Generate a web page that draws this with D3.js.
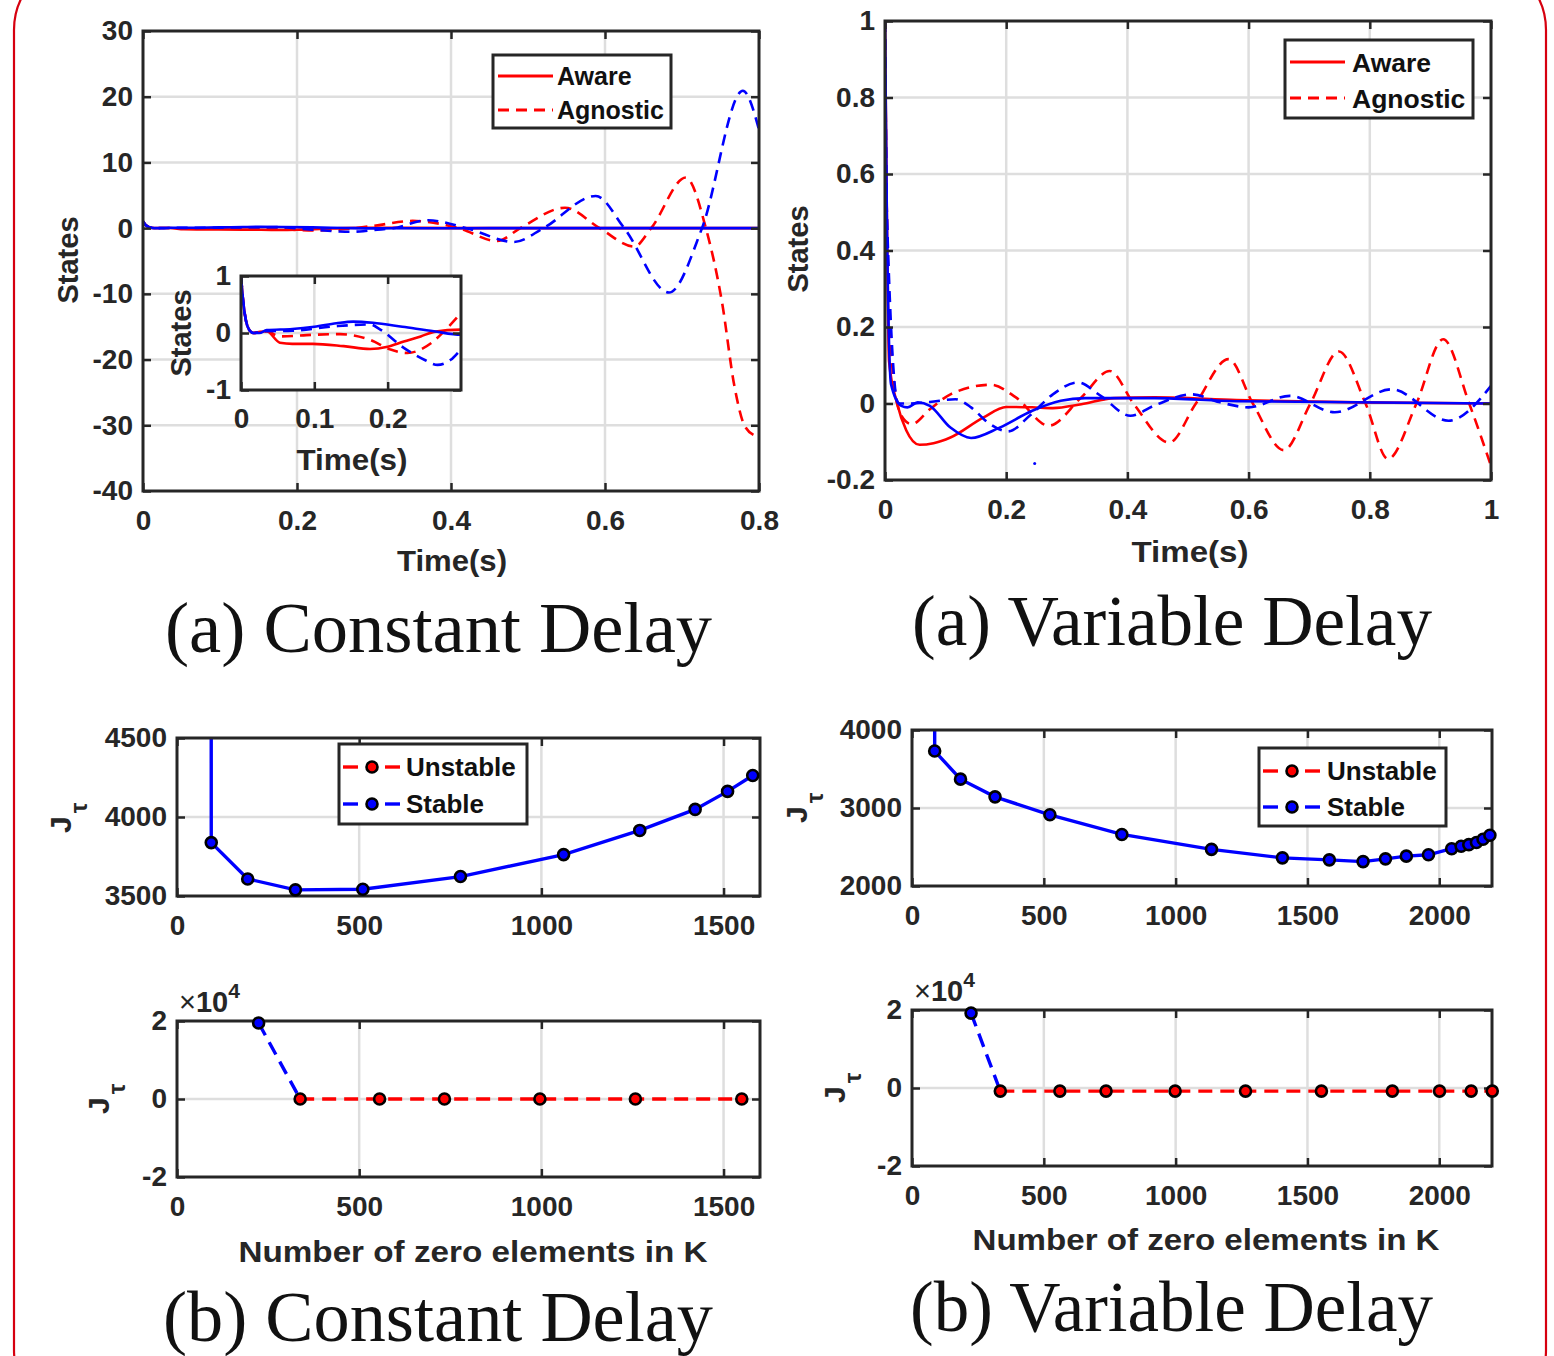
<!DOCTYPE html>
<html>
<head>
<meta charset="utf-8">
<script src="https://cdn.jsdelivr.net/npm/d3@7"></script>
<style>
  body { margin: 0; background: #fff; }
</style>
</head>
<body>
<svg id="fig" width="1554" height="1356" font-family='"Liberation Sans", Arial, sans-serif'></svg>
<script>
// ---------- data ----------
// (a) constant delay, [time (s), state]
const constAwareRed = [[0,1],[0.003,0.55],[0.007,0.2],[0.012,0.04],[0.017,0],[0.026,0.02],[0.035,0.03],[0.053,-0.17],[0.07,-0.19],[0.098,-0.19],[0.14,-0.23],[0.176,-0.28],[0.2,-0.24],[0.222,-0.15],[0.245,-0.06],[0.263,0.02],[0.3,0.06],[0.35,0.04],[0.45,0],[0.8,0]];
const constAwareBlue = [[0,1],[0.003,0.55],[0.007,0.2],[0.012,0.04],[0.017,0],[0.025,0],[0.035,0.05],[0.07,0.07],[0.1,0.11],[0.13,0.17],[0.153,0.2],[0.18,0.18],[0.22,0.11],[0.263,0.03],[0.3,-0.03],[0.35,-0.02],[0.45,0],[0.8,0]];
const constAgnosticRed = [[0,1],[0.003,0.55],[0.007,0.2],[0.012,0.04],[0.017,0],[0.026,0.02],[0.035,0.03],[0.053,-0.06],[0.1,-0.03],[0.135,-0.02],[0.176,-0.12],[0.204,-0.29],[0.227,-0.35],[0.259,-0.18],[0.277,0.03],[0.3,0.35],[0.35,1.1],[0.41,0],[0.46,-1.96],[0.49,0],[0.548,3.1],[0.593,0],[0.638,-2.8],[0.66,0],[0.705,7.7],[0.731,0],[0.752,-11.3],[0.768,-24],[0.781,-30],[0.795,-31.6],[0.8,-31.8]];
const constAgnosticBlue = [[0,1],[0.003,0.55],[0.007,0.2],[0.012,0.04],[0.017,0],[0.03,0.03],[0.07,0.04],[0.13,0.12],[0.176,0.15],[0.19,0.06],[0.222,-0.26],[0.25,-0.47],[0.268,-0.56],[0.286,-0.47],[0.3,-0.29],[0.325,0],[0.37,1.2],[0.42,0],[0.482,-2.1],[0.52,0],[0.588,4.9],[0.625,0],[0.683,-9.8],[0.726,0],[0.779,20.9],[0.8,15]];

// (a) variable delay, [time (s), state]
const varAwareRed = [[0,1],[0.003,0.5],[0.0067,0.11],[0.02,0],[0.035,-0.07],[0.057,-0.108],[0.08,-0.104],[0.108,-0.089],[0.162,-0.037],[0.2,-0.009],[0.243,-0.01],[0.277,-0.012],[0.324,-0.002],[0.378,0.014],[0.445,0.016],[0.58,0.009],[0.78,0.003],[1,0]];
const varAwareBlue = [[0,1],[0.003,0.5],[0.01,0.05],[0.027,-0.006],[0.037,-0.01],[0.054,0.003],[0.074,-0.006],[0.108,-0.063],[0.142,-0.09],[0.189,-0.063],[0.243,-0.019],[0.29,0.007],[0.33,0.014],[0.445,0.014],[0.58,0.006],[1,0]];
const varAgnosticRed = [[0,1],[0.003,0.5],[0.013,0.08],[0.027,-0.032],[0.044,-0.054],[0.074,-0.015],[0.108,0.024],[0.175,0.049],[0.216,0.016],[0.27,-0.058],[0.324,0.016],[0.371,0.085],[0.41,0],[0.469,-0.102],[0.513,0],[0.567,0.116],[0.607,0],[0.658,-0.122],[0.702,0],[0.749,0.136],[0.793,0],[0.83,-0.145],[0.877,0],[0.921,0.168],[0.964,0],[1,-0.163]];
const varAgnosticBlue = [[0,1],[0.003,0.5],[0.022,0],[0.04,0],[0.074,0.004],[0.116,0.011],[0.142,-0.01],[0.17,-0.05],[0.203,-0.073],[0.24,-0.03],[0.277,0.024],[0.318,0.055],[0.356,0.02],[0.405,-0.032],[0.445,-0.005],[0.506,0.024],[0.553,0.003],[0.6,-0.01],[0.668,0.02],[0.742,-0.023],[0.836,0.037],[0.93,-0.045],[1,0.046]];
const varStrayDot = [[0.247,-0.157]];

// (b) cost vs number of zero elements in K
const stableKC = [92, 94, 194, 325, 510, 778, 1061, 1270, 1422, 1511, 1580];
const stableJC = [19000, 3838, 3608, 3539, 3543, 3623, 3762, 3915, 4048, 4162, 4263];
const stableKV = [90, 86, 184, 315, 523, 796, 1136, 1405, 1583, 1711, 1796, 1875, 1959, 2047, 2083, 2112, 2141, 2166, 2192];
const stableJV = [19000, 3730, 3370, 3143, 2913, 2661, 2470, 2361, 2335, 2313, 2348, 2383, 2400, 2478, 2509, 2530, 2557, 2600, 2650];

const jumpKC = [224, 338];
const jumpJC = [19500, 0];
const unstableKC = [338, 556, 734, 996, 1258, 1550];
const unstableJC = [0, 0, 0, 0, 0, 0];
const jumpKV = [224, 335];
const jumpJV = [19200, -800];
const unstableKV = [335, 561, 736, 998, 1265, 1553, 1822, 2001, 2121, 2201];
const unstableJV = [-800, -800, -800, -800, -800, -800, -800, -800, -800, -800];

const timeTicksC = [0, 0.2, 0.4, 0.6, 0.8];
const stateTicksC = [-40, -30, -20, -10, 0, 10, 20, 30];
const insetTimeTicks = [0, 0.1, 0.2];
const insetStateTicks = [-1, 0, 1];
const timeTicksV = [0, 0.2, 0.4, 0.6, 0.8, 1];
const stateTicksV = [-0.2, 0, 0.2, 0.4, 0.6, 0.8, 1];
const kTicksC = [0, 500, 1000, 1500];
const kTicksV = [0, 500, 1000, 1500, 2000];
const costTicksC = [3500, 4000, 4500];
const costTicksV = [2000, 3000, 4000];
const costTicksLow = [-20000, 0, 20000];

// ---------- drawing ----------
const svg = d3.select("#fig");
const SANS = '"Liberation Sans", Arial, sans-serif';
const SERIF = '"Liberation Serif", "DejaVu Serif", serif';
const INK = "#262626", GRID = "#dedede", RED = "#ff0000", BLUE = "#0000ff";
let clipCount = 0;

// outer red frame
svg.append("rect")
  .attr("x", 14).attr("y", -40).attr("width", 1532).attr("height", 1460)
  .attr("rx", 70).attr("fill", "none").attr("stroke", "#d6000f").attr("stroke-width", 2.2);

function makePanel(box, xDomain, yDomain, xTicks, yTicks, fmtY, opts = {}) {
  const x = d3.scaleLinear().domain(xDomain).range([box.x0, box.x1]);
  const y = d3.scaleLinear().domain(yDomain).range([box.y1, box.y0]);
  const g = svg.append("g");
  g.append("rect")
    .attr("x", box.x0).attr("y", box.y0)
    .attr("width", box.x1 - box.x0).attr("height", box.y1 - box.y0)
    .attr("fill", "#fff");
  const id = "clip" + clipCount++;
  svg.append("clipPath").attr("id", id).append("rect")
    .attr("x", box.x0).attr("y", box.y0)
    .attr("width", box.x1 - box.x0).attr("height", box.y1 - box.y0);

  const gridX = xTicks.filter((v) => v > xDomain[0] && v < xDomain[1]);
  const gridY = yTicks.filter((v) => v > yDomain[0] && v < yDomain[1]);
  g.append("g").selectAll("line").data(gridX).join("line")
    .attr("x1", (d) => x(d)).attr("x2", (d) => x(d))
    .attr("y1", box.y0).attr("y2", box.y1)
    .attr("stroke", GRID).attr("stroke-width", 2.5);
  g.append("g").selectAll("line").data(gridY).join("line")
    .attr("y1", (d) => y(d)).attr("y2", (d) => y(d))
    .attr("x1", box.x0).attr("x2", box.x1)
    .attr("stroke", GRID).attr("stroke-width", 2.5);

  const plot = g.append("g").attr("clip-path", `url(#${id})`);
  return { g, plot, x, y, box, xTicks, yTicks, fmtY,
    fontSize: opts.fontSize || 28, padX: opts.padX || 19 };
}

function finishPanel(p) {
  const { g, x, y, box } = p;
  g.append("rect")
    .attr("x", box.x0).attr("y", box.y0)
    .attr("width", box.x1 - box.x0).attr("height", box.y1 - box.y0)
    .attr("fill", "none").attr("stroke", INK).attr("stroke-width", 3);
  const style = (sel) => {
    sel.select(".domain").remove();
    sel.selectAll(".tick line").attr("stroke", INK).attr("stroke-width", 2.5);
    sel.selectAll("text")
      .attr("fill", INK).attr("font-size", p.fontSize)
      .attr("font-weight", "bold")
      .attr("font-family", SANS);
  };
  const fmtX = (d) => String(d);
  g.append("g").attr("transform", `translate(0,${box.y1})`)
    .call(d3.axisBottom(x).tickValues(p.xTicks).tickFormat(fmtX)
      .tickSizeInner(-8).tickSizeOuter(0).tickPadding(p.padX))
    .call(style);
  g.append("g").attr("transform", `translate(${box.x0},0)`)
    .call(d3.axisLeft(y).tickValues(p.yTicks).tickFormat(p.fmtY)
      .tickSizeInner(-8).tickSizeOuter(0).tickPadding(10))
    .call(style);
  g.append("g").attr("transform", `translate(0,${box.y0})`)
    .call(d3.axisTop(x).tickValues(p.xTicks).tickFormat(() => "")
      .tickSizeInner(-8).tickSizeOuter(0))
    .call(style);
  g.append("g").attr("transform", `translate(${box.x1},0)`)
    .call(d3.axisRight(y).tickValues(p.yTicks).tickFormat(() => "")
      .tickSizeInner(-8).tickSizeOuter(0))
    .call(style);
}

function drawCurve(p, data, color, dashed) {
  p.plot.append("path").datum(data)
    .attr("fill", "none").attr("stroke", color).attr("stroke-width", 2.6)
    .attr("stroke-dasharray", dashed ? "11,7" : null)
    .attr("d", d3.line().x((d) => p.x(d[0])).y((d) => p.y(d[1])).curve(d3.curveMonotoneX));
}

function drawPolyline(p, ks, js, color, dashed) {
  p.plot.append("path").datum(d3.zip(ks, js))
    .attr("fill", "none").attr("stroke", color).attr("stroke-width", 3.4)
    .attr("stroke-dasharray", dashed ? "14,8" : null)
    .attr("d", d3.line().x((d) => p.x(d[0])).y((d) => p.y(d[1])));
}

function drawMarkers(p, ks, js, color) {
  const [lo, hi] = p.y.domain();
  p.g.append("g").selectAll("circle")
    .data(d3.zip(ks, js).filter((d) => d[1] >= lo && d[1] <= hi))
    .join("circle")
    .attr("cx", (d) => p.x(d[0])).attr("cy", (d) => p.y(d[1]))
    .attr("r", 5.5).attr("fill", color).attr("stroke", "#000").attr("stroke-width", 2.6);
}

function label(txt, x, y, size, opts = {}) {
  const t = svg.append("text")
    .attr("x", x).attr("y", y).attr("font-size", size)
    .attr("font-family", opts.family || SANS)
    .attr("font-weight", opts.weight || "bold").attr("fill", opts.fill || INK)
    .attr("text-anchor", opts.anchor || "middle").text(txt);
  if (opts.rotate) t.attr("transform", `rotate(-90,${x},${y})`);
  if (opts.len) t.attr("textLength", opts.len).attr("lengthAdjust", "spacingAndGlyphs");
  return t;
}

function jTau(x, y) {
  const t = svg.append("text")
    .attr("x", x).attr("y", y).attr("font-size", 30).attr("font-weight", "bold")
    .attr("font-family", SANS).attr("fill", INK)
    .attr("transform", `rotate(-90,${x},${y})`);
  t.append("tspan").text("J");
  t.append("tspan").attr("dy", 16).attr("dx", 3).attr("font-size", 24).text("τ");
}

function times10(x, y) {
  const t = svg.append("text").attr("x", x).attr("y", y).attr("font-size", 29)
    .attr("font-family", SANS).attr("fill", INK);
  t.append("tspan").text("×");
  t.append("tspan").attr("font-weight", "bold").text("10");
  t.append("tspan").attr("font-size", 21).attr("font-weight", "bold").attr("dy", -14).text("4");
}

function curveLegend(bx, rows, fontSize) {
  const g = svg.append("g");
  g.append("rect")
    .attr("x", bx.x0).attr("y", bx.y0).attr("width", bx.x1 - bx.x0).attr("height", bx.y1 - bx.y0)
    .attr("fill", "#fff").attr("stroke", INK).attr("stroke-width", 3);
  rows.forEach((r) => {
    g.append("line").attr("x1", bx.lx0).attr("x2", bx.lx1).attr("y1", r.y).attr("y2", r.y)
      .attr("stroke", RED).attr("stroke-width", 2.8)
      .attr("stroke-dasharray", r.dashed ? "11,7" : null);
    g.append("text").attr("x", bx.tx).attr("y", r.y).attr("dy", "0.36em")
      .attr("font-family", SANS)
      .attr("font-size", fontSize).attr("font-weight", "bold").attr("fill", "#111").text(r.label);
  });
}

function markerLegend(bx, rows) {
  const g = svg.append("g");
  g.append("rect")
    .attr("x", bx.x0).attr("y", bx.y0).attr("width", bx.x1 - bx.x0).attr("height", bx.y1 - bx.y0)
    .attr("fill", "#fff").attr("stroke", INK).attr("stroke-width", 3);
  rows.forEach((r) => {
    [[bx.mx - 29, bx.mx - 14], [bx.mx + 13, bx.mx + 28]].forEach(([a, b]) => {
      g.append("line").attr("x1", a).attr("x2", b).attr("y1", r.y).attr("y2", r.y)
        .attr("stroke", r.color).attr("stroke-width", 3.4);
    });
    g.append("circle").attr("cx", bx.mx).attr("cy", r.y).attr("r", 5.5)
      .attr("fill", r.color).attr("stroke", "#000").attr("stroke-width", 2.6);
    g.append("text").attr("x", bx.tx).attr("y", r.y).attr("dy", "0.36em")
      .attr("font-family", SANS)
      .attr("font-size", 26).attr("font-weight", "bold").attr("fill", "#111").text(r.label);
  });
}

const str = (d) => String(d);

// ---- (a) Constant Delay ----
const p1 = makePanel({ x0: 143, x1: 759, y0: 31, y1: 491 }, [0, 0.8], [-40, 30], timeTicksC, stateTicksC, str);
drawCurve(p1, constAwareRed, RED, false);
drawCurve(p1, constAgnosticRed, RED, true);
drawCurve(p1, constAgnosticBlue, BLUE, true);
drawCurve(p1, constAwareBlue, BLUE, false);
finishPanel(p1);
curveLegend({ x0: 493, x1: 671, y0: 55, y1: 128, lx0: 498, lx1: 553, tx: 557 },
  [{ y: 76, label: "Aware", dashed: false }, { y: 110, label: "Agnostic", dashed: true }], 25);
label("States", 78, 260, 29, { rotate: true });
label("Time(s)", 452, 571, 29, { len: 110 });

// inset
const pin = makePanel({ x0: 241, x1: 461, y0: 276, y1: 390 }, [0, 0.3], [-1, 1], insetTimeTicks, insetStateTicks, str, { padX: 18 });
drawCurve(pin, constAwareRed, RED, false);
drawCurve(pin, constAgnosticRed, RED, true);
drawCurve(pin, constAgnosticBlue, BLUE, true);
drawCurve(pin, constAwareBlue, BLUE, false);
finishPanel(pin);
label("States", 191, 333, 29, { rotate: true });
label("Time(s)", 352, 470, 29, { len: 111 });

// ---- (a) Variable Delay ----
const p2 = makePanel({ x0: 885, x1: 1491, y0: 21, y1: 480 }, [0, 1], [-0.2, 1], timeTicksV, stateTicksV, str);
drawCurve(p2, varAwareRed, RED, false);
drawCurve(p2, varAgnosticRed, RED, true);
drawCurve(p2, varAgnosticBlue, BLUE, true);
drawCurve(p2, varAwareBlue, BLUE, false);
p2.plot.selectAll(".stray").data(varStrayDot).join("circle").attr("class", "stray")
  .attr("cx", (d) => p2.x(d[0])).attr("cy", (d) => p2.y(d[1])).attr("r", 1.5).attr("fill", BLUE);
finishPanel(p2);
curveLegend({ x0: 1285, x1: 1473, y0: 40, y1: 118, lx0: 1290, lx1: 1345, tx: 1352 },
  [{ y: 62, label: "Aware", dashed: false }, { y: 98, label: "Agnostic", dashed: true }], 26.5);
label("States", 808, 249, 29, { rotate: true });
label("Time(s)", 1190, 562, 29, { len: 117 });

// ---- (b) Constant Delay ----
const p3 = makePanel({ x0: 177, x1: 760, y0: 738, y1: 896 }, [0, 1600], [3500, 4500], kTicksC, costTicksC, str);
drawPolyline(p3, stableKC, stableJC, BLUE, false);
finishPanel(p3);
drawMarkers(p3, stableKC, stableJC, BLUE);
markerLegend({ x0: 339, x1: 527, y0: 744, y1: 824, mx: 372, tx: 406 },
  [{ y: 767, label: "Unstable", color: RED }, { y: 804, label: "Stable", color: BLUE }]);
jTau(71, 833);

const p5 = makePanel({ x0: 177, x1: 760, y0: 1021, y1: 1177 }, [0, 1600], [-20000, 20000], kTicksC, costTicksLow, (d) => String(d / 1e4));
drawPolyline(p5, jumpKC, jumpJC, BLUE, true);
drawPolyline(p5, unstableKC, unstableJC, RED, true);
finishPanel(p5);
drawMarkers(p5, jumpKC.slice(0, 1), jumpJC.slice(0, 1), BLUE);
drawMarkers(p5, unstableKC, unstableJC, RED);
times10(179, 1012);
jTau(109, 1114);
label("Number of zero elements in K", 473, 1262, 30, { len: 469 });

// ---- (b) Variable Delay ----
const p4 = makePanel({ x0: 912, x1: 1492, y0: 730, y1: 886 }, [0, 2200], [2000, 4000], kTicksV, costTicksV, str);
drawPolyline(p4, stableKV, stableJV, BLUE, false);
finishPanel(p4);
drawMarkers(p4, stableKV, stableJV, BLUE);
markerLegend({ x0: 1259, x1: 1446, y0: 748, y1: 826, mx: 1292, tx: 1327 },
  [{ y: 771, label: "Unstable", color: RED }, { y: 807, label: "Stable", color: BLUE }]);
jTau(807, 823);

const p6 = makePanel({ x0: 912, x1: 1492, y0: 1010, y1: 1166 }, [0, 2200], [-20000, 20000], kTicksV, costTicksLow, (d) => String(d / 1e4));
drawPolyline(p6, jumpKV, jumpJV, BLUE, true);
drawPolyline(p6, unstableKV, unstableJV, RED, true);
finishPanel(p6);
drawMarkers(p6, jumpKV.slice(0, 1), jumpJV.slice(0, 1), BLUE);
drawMarkers(p6, unstableKV, unstableJV, RED);
times10(914, 1001);
jTau(845, 1103);
label("Number of zero elements in K", 1206, 1250, 30, { len: 467 });

// ---- captions ----
label("(a) Constant Delay", 165, 652, 72, { anchor: "start", weight: "normal", fill: "#111", family: SERIF, len: 547 });
label("(a) Variable Delay", 912, 645, 72, { anchor: "start", weight: "normal", fill: "#111", family: SERIF, len: 520 });
label("(b) Constant Delay", 163, 1341, 72, { anchor: "start", weight: "normal", fill: "#111", family: SERIF, len: 550 });
label("(b) Variable Delay", 910, 1331, 72, { anchor: "start", weight: "normal", fill: "#111", family: SERIF, len: 523 });
</script>
</body>
</html>
